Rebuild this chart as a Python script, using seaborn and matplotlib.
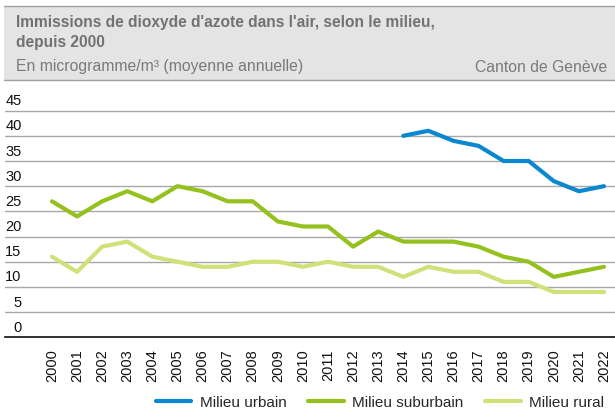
import numpy as np
import pandas as pd
import matplotlib
matplotlib.use("Agg")
import matplotlib.pyplot as plt
import matplotlib.transforms as mtransforms
from matplotlib.patches import Rectangle
from matplotlib.lines import Line2D
import seaborn as sns

# donnees
annees = list(range(2000, 2023))
urbain = [np.nan] * 14 + [40, 41, 39, 38, 35, 35, 31, 29, 30]
suburbain = [27, 24, 27, 29, 27, 30, 29, 27, 27, 23, 22, 22, 18, 21, 19, 19, 19, 18, 16, 15, 12, 13, 14]
rural = [16, 13, 18, 19, 16, 15, 14, 14, 15, 15, 14, 15, 14, 14, 12, 14, 13, 13, 11, 11, 9, 9, 9]
series = ["Milieu urbain", "Milieu suburbain", "Milieu rural"]
couleurs = ["#0a87cf", "#95c11f", "#d2e07a"]
yticks = [0, 5, 10, 15, 20, 25, 30, 35, 40, 45]

sns.set_theme(style="white")
plt.rcParams["font.family"] = ["Liberation Sans", "DejaVu Sans"]

df = pd.DataFrame({"annee": annees * 3,
                   "valeur": urbain + suburbain + rural,
                   "milieu": [s for s in series for _ in annees]})

W, H = 615, 410
fig = plt.figure(figsize=(W / 100, H / 100), dpi=100)
ax = fig.add_axes([5 / W, 1 - 338.3 / H, 1 - 5 / W, (338.3 - 94) / H])

sns.lineplot(data=df, x="annee", y="valeur", hue="milieu", palette=couleurs,
             hue_order=series, linewidth=3, ax=ax, legend=False)

ax.set_xlim(2000 - 47 / 25.1, 2022 + 11 / 25.1)
ax.set_ylim(0, 48.5)
ax.set_yticks(yticks)
ax.set_yticklabels([])
ax.tick_params(axis="y", length=0)
ax.grid(axis="y", color="#a8a8a8", linewidth=1)
ax.set_axisbelow(True)
ax.set_xticks(annees)
ax.set_xticklabels([str(a) for a in annees], rotation=90, fontsize=10.5, color="#111111")
ax.tick_params(axis="x", length=0, pad=8)
ax.set_xlabel("")
ax.set_ylabel("")
for s in ["top", "right", "left"]:
    ax.spines[s].set_visible(False)
ax.spines["bottom"].set_color("#111111")
ax.spines["bottom"].set_linewidth(1.2)

# etiquettes y au-dessus des lignes
off = mtransforms.ScaledTranslation(0, 6.5 / 100, fig.dpi_scale_trans)
tr = mtransforms.blended_transform_factory(fig.transFigure, ax.transData) + off
for v in yticks:
    fig.text(21.5 / W, v, str(v), transform=tr, ha="right", va="baseline",
             fontsize=10.5, color="#111111")

# bandeau du titre
fig.patches.append(Rectangle((4 / W, 1 - 81 / H), 1, 74 / H, transform=fig.transFigure,
                             facecolor="#e4e4e4", edgecolor="none"))
fig.add_artist(Line2D([4 / W, 1], [1 - 7 / H] * 2, color="#a0a0a0", lw=1))
fig.add_artist(Line2D([4 / W, 1], [1 - 81 / H] * 2, color="#a0a0a0", lw=1))
fig.text(16 / W, 1 - 23 / H, "Immissions de dioxyde d'azote dans l'air, selon le milieu,",
         fontsize=11.2, fontweight="bold", color="#727272", va="center")
fig.text(16 / W, 1 - 43 / H, "depuis 2000", fontsize=11.2, fontweight="bold",
         color="#727272", va="center")
fig.text(16 / W, 1 - 67 / H, "En microgramme/m³ (moyenne annuelle)", fontsize=11.3,
         color="#7a7a7a", va="center")
fig.text(607 / W, 1 - 67 / H, "Canton de Genève", fontsize=11.3, color="#7a7a7a",
         va="center", ha="right")

handles = [Line2D([], [], color=c, lw=3) for c in couleurs]
fig.legend(handles, series, loc="center left", bbox_to_anchor=(156 / W, 1 - 403 / H),
           ncol=3, frameon=False, fontsize=11, handlelength=2.3, handletextpad=0.55,
           columnspacing=1.45, borderpad=0, borderaxespad=0)

fig.savefig("out.png", dpi=100)
